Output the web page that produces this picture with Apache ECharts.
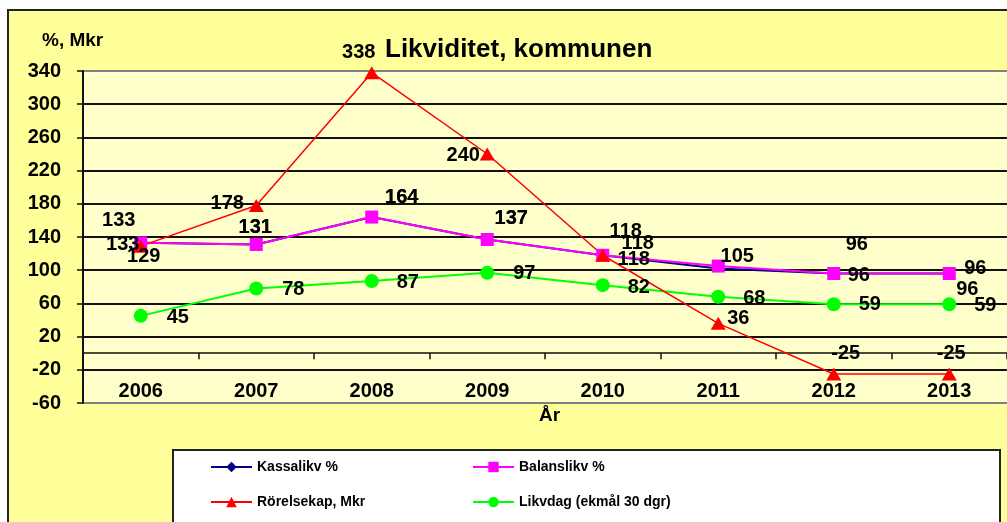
<!DOCTYPE html>
<html><head><meta charset="utf-8">
<script src="https://cdn.jsdelivr.net/npm/echarts@6/dist/echarts.min.js"></script>
<style>html,body{margin:0;padding:0;background:#fff;}#c{width:1007px;height:522px;}</style>
</head><body><div id="c"></div>
<script>
const years = ['2006','2007','2008','2009','2010','2011','2012','2013'];
const kassalikv = [133,131,164,137,118,102,96,96];
const balanslikv = [133,131,164,137,118,105,96,96];
const rorelsekap = [129,178,338,240,118,36,-25,-25];
const likvdag = [45,78,87,97,82,68,59,59];
const yTickLabels = ['-60','-20','20','60','100','140','180','220','260','300','340'];
const names = ['Kassalikv %','Balanslikv %','Rörelsekap, Mkr','Likvdag (ekmål 30 dgr)'];

// label placement (style only)
const kassaOff = [[-22,-22],[-1,-17],[30,-20],[24,-21],[23,-24],null,[23,-29],[18,16]];
const balansOff = [[-18,2],[-1,-17],[30,-20],[24,-21],[35,-12],[19,-10],[25,2],[26,-5]];
const redOff = [[3,10],[-29,-2],[-13,-20],[-24,1],[31,4],[20,-5],[12,-20],[2,-20]];
const greenOff = [[37,2],[37,1],[36,1],[37,1],[36,2],[36,2],[36,0],[36,1]];

const FONT = "'Liberation Sans', Arial, sans-serif";

function items(vals, offs) {
  return vals.map((v, i) => offs[i] ? {value: v, label: {offset: offs[i]}} : {value: v, label: {show: false}});
}
const labelBase = {show: true, position: 'inside', align: 'center', verticalAlign: 'middle',
  color: '#000', fontSize: 20, fontWeight: 'bold', fontFamily: FONT};

function mkSeries(name, vals, offs, color, symbol, size, width) {
  return {name, type: 'line', data: items(vals, offs), yAxisIndex: 0,
    symbol, symbolSize: size, showAllSymbol: true,
    itemStyle: {color}, lineStyle: {color, width},
    label: labelBase, emphasis: {disabled: true}};
}

const gridColors = yTickLabels.map((t, i) => (i === 0 || i === yTickLabels.length - 1) ? '#808080' : '#111');
const legendText = {fontSize: 14, fontWeight: 'bold', color: '#000', fontFamily: FONT};

const chart = echarts.init(document.getElementById('c'));
chart.setOption({
  animation: false,
  backgroundColor: '#fff',
  title: {text: 'Likviditet, kommunen', left: 380, top: 32,
    textStyle: {fontSize: 26, fontWeight: 'bold', color: '#000', fontFamily: FONT}},
  graphic: [
    {type: 'rect', z: -5, shape: {x: 8, y: 10, width: 1100, height: 600},
      style: {fill: '#FFFF99', stroke: '#222', lineWidth: 2}},
    {type: 'rect', z: 1, shape: {x: 173, y: 450, width: 827, height: 100},
      style: {fill: '#fff', stroke: '#222', lineWidth: 2}},
    {type: 'text', z: 5, left: 42, top: 31, style: {text: '%, Mkr', font: 'bold 19px ' + FONT, fill: '#000'}},
    {type: 'text', z: 5, left: 539, top: 406, style: {text: 'År', font: 'bold 19px ' + FONT, fill: '#000'}}
  ],
  legend: [
    {data: [names[0], names[2]], orient: 'vertical', left: 210, top: 460, height: 100, padding: 0,
      itemWidth: 41, itemHeight: 13, itemGap: 21, selectedMode: false, textStyle: legendText},
    {data: [names[1], names[3]], orient: 'vertical', left: 472, top: 460, height: 100, padding: 0,
      itemWidth: 41, itemHeight: 13, itemGap: 21, selectedMode: false, textStyle: legendText}
  ],
  grid: {left: 83, top: 71, right: -4, bottom: 119, show: true, backgroundColor: '#FFFFCC', borderWidth: 0},
  xAxis: {type: 'category', data: years, boundaryGap: true,
    axisLine: {onZero: true, onZeroAxisIndex: 0, lineStyle: {color: '#111', width: 1.5}},
    axisTick: {show: true, length: 6, lineStyle: {color: '#111', width: 1.5}},
    axisLabel: {margin: -22, fontSize: 20, fontWeight: 'bold', color: '#000', fontFamily: FONT},
    splitLine: {show: false}},
  yAxis: [
    {type: 'value', min: -60, max: 340, show: false},
    {type: 'value', min: 0, max: 10, interval: 1, position: 'left',
      axisLine: {show: true, lineStyle: {color: '#111', width: 2}},
      axisTick: {show: true, length: 6, lineStyle: {color: '#111', width: 1.5}},
      axisLabel: {margin: 22, fontSize: 20, fontWeight: 'bold', color: '#000', fontFamily: FONT,
        formatter: v => yTickLabels[v]},
      splitLine: {show: true, lineStyle: {color: gridColors, width: 2}}}
  ],
  series: [
    mkSeries(names[0], kassalikv, kassaOff, '#000080', 'diamond', 8, 2),
    mkSeries(names[1], balanslikv, balansOff, '#FF00FF', 'rect', 13, 2),
    mkSeries(names[3], likvdag, greenOff, '#00FF00', 'circle', 14, 2),
    mkSeries(names[2], rorelsekap, redOff, '#FF0000', 'triangle', [15, 13], 1.5)
  ]
});
</script></body></html>
